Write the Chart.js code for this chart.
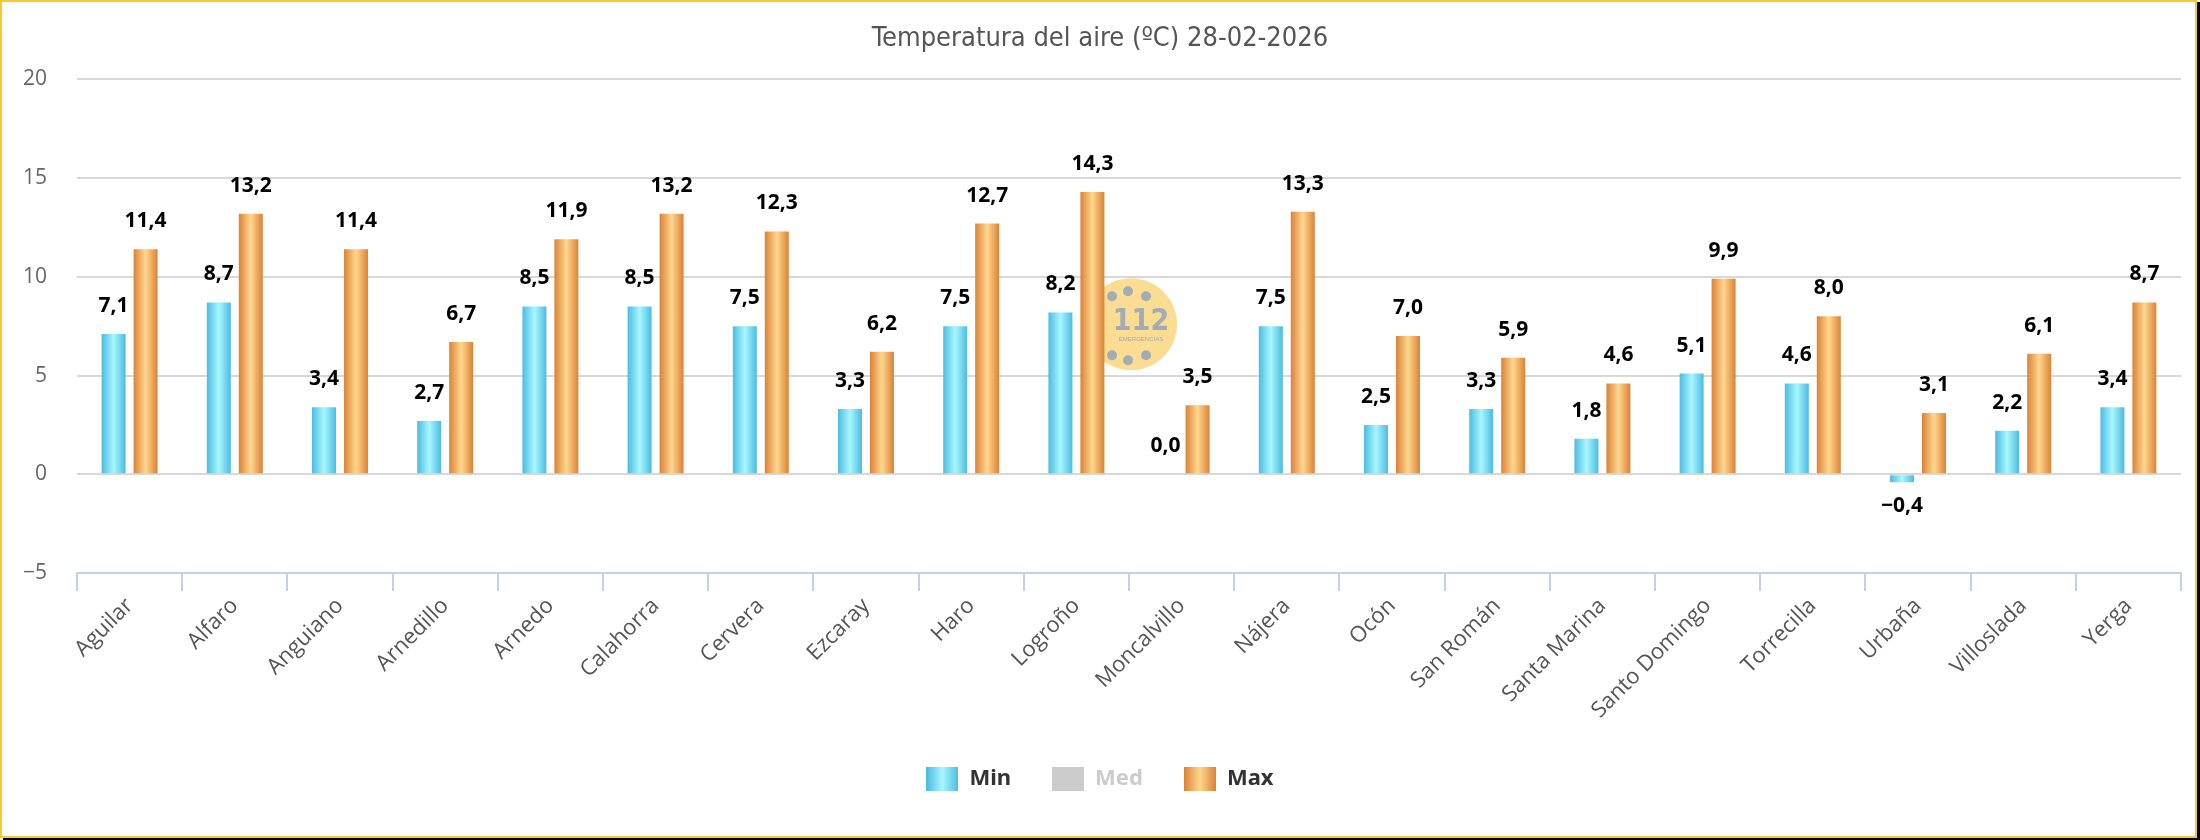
<!DOCTYPE html>
<html><head><meta charset="utf-8">
<script src="https://cdn.jsdelivr.net/npm/chart.js@4.4.1/dist/chart.umd.min.js"></script>
<style>
html,body{margin:0;padding:0;background:#fff;}
#wrap{position:relative;width:2200px;height:840px;}
#frame{position:absolute;left:0;top:0;width:2197px;height:838px;box-sizing:border-box;border:2px solid #FCC72E;box-shadow:3px 2px 0 0 #000;pointer-events:none;}
canvas{display:block;}
</style></head><body>
<div id="wrap"><canvas id="c" width="2200" height="840"></canvas><div id="frame"></div></div>
<script>
const chartTitle = 'Temperatura del aire (ºC) 28-02-2026';
const categories = ['Aguilar','Alfaro','Anguiano','Arnedillo','Arnedo','Calahorra','Cervera','Ezcaray','Haro','Logroño','Moncalvillo','Nájera','Ocón','San Román','Santa Marina','Santo Domingo','Torrecilla','Urbaña','Villoslada','Yerga'];
const minValues = [7.1, 8.7, 3.4, 2.7, 8.5, 8.5, 7.5, 3.3, 7.5, 8.2, 0.0, 7.5, 2.5, 3.3, 1.8, 5.1, 4.6, -0.4, 2.2, 3.4];
const medValues = [null,null,null,null,null,null,null,null,null,null,null,null,null,null,null,null,null,null,null,null];
const maxValues = [11.4, 13.2, 11.4, 6.7, 11.9, 13.2, 12.3, 6.2, 12.7, 14.3, 3.5, 13.3, 7.0, 5.9, 4.6, 9.9, 8.0, 3.1, 6.1, 8.7];
const seriesNames = ['Min', 'Med', 'Max'];
const yMin = -5, yMax = 20, yStep = 5;

const CAT_PCT = 0.608, BAR_PCT = 0.75;
const MIN_EDGE = '#4CBBE1', MIN_MID = '#A8F7FF';
const MAX_EDGE = '#DB8236', MAX_MID = '#FFD78F';
const MED_COLOR = '#CCCCCC';

function fmt(v) {
  const s = Math.abs(v).toFixed(1).replace('.', ',');
  return v < 0 ? '\u2212' + s : s;
}

function makeBarFill(edge, mid, side) {
  return (ctx) => {
    const chart = ctx.chart, xs = chart.scales && chart.scales.x;
    if (ctx.type !== 'data' || !xs || !xs.width) return edge;
    const center = xs.getPixelForValue(ctx.dataIndex);
    const cat = xs.width / categories.length;
    const slot = cat * CAT_PCT / 2;
    const w = slot * BAR_PCT;
    const bc = center + side * slot / 2;
    const g = chart.ctx.createLinearGradient(bc - w / 2, 0, bc + w / 2, 0);
    g.addColorStop(0, edge); g.addColorStop(0.5, mid); g.addColorStop(1, edge);
    return g;
  };
}

function legendIcon(edge, mid) {
  const c = document.createElement('canvas');
  c.width = 32; c.height = 24;
  const x = c.getContext('2d');
  if (mid) {
    const g = x.createLinearGradient(0, 0, 32, 0);
    g.addColorStop(0, edge); g.addColorStop(0.5, mid); g.addColorStop(1, edge);
    x.fillStyle = g;
  } else x.fillStyle = edge;
  x.fillRect(0, 0, 32, 24);
  return c;
}
const icons = [legendIcon(MIN_EDGE, MIN_MID), legendIcon(MED_COLOR), legendIcon(MAX_EDGE, MAX_MID)];

const logoPlugin = {
  id: 'logo',
  beforeDatasetsDraw(chart) {
    const ca = chart.chartArea, ctx = chart.ctx;
    const cx = (ca.left + ca.right) / 2 + 2, cy = (ca.top + ca.bottom) / 2 - 2;
    ctx.save();
    ctx.fillStyle = '#FADC92';
    ctx.beginPath(); ctx.arc(cx, cy, 46, 0, Math.PI * 2); ctx.fill();
    ctx.fillStyle = '#A2ACB4';
    [[-19,-28],[-3,-33],[15,-28],[-19,31],[-3,36],[15,31]].forEach(([dx, dy]) => {
      ctx.beginPath(); ctx.arc(cx + dx, cy + dy, 5, 0, Math.PI * 2); ctx.fill();
    });
    ctx.textAlign = 'center'; ctx.textBaseline = 'middle';
    ctx.font = 'bold 30px "Liberation Sans Narrow", "DejaVu Sans Condensed", sans-serif';
    ctx.fillText('112', cx + 10, cy - 2);
    ctx.font = '6px "Liberation Sans", sans-serif';
    ctx.fillText('EMERGENCIAS', cx + 10, cy + 15);
    ctx.restore();
  }
};

const labelPlugin = {
  id: 'valueLabels',
  afterDatasetsDraw(chart) {
    const ctx = chart.ctx;
    ctx.save();
    ctx.font = 'bold 21px "Noto Sans", sans-serif';
    ctx.fillStyle = '#000';
    ctx.textAlign = 'center';
    ctx.textBaseline = 'middle';
    chart.data.datasets.forEach((ds, di) => {
      if (!chart.isDatasetVisible(di)) return;
      const meta = chart.getDatasetMeta(di);
      meta.data.forEach((el, i) => {
        const v = ds.data[i];
        if (v === null || v === undefined) return;
        const y = v < 0 ? el.y + 24 : el.y - 28;
        ctx.fillText(fmt(v), el.x, y);
      });
    });
    ctx.restore();
  }
};

new Chart(document.getElementById('c'), {
  type: 'bar',
  data: {
    labels: categories,
    datasets: [
      { label: seriesNames[0], data: minValues, backgroundColor: makeBarFill(MIN_EDGE, MIN_MID, -1), categoryPercentage: CAT_PCT, barPercentage: BAR_PCT },
      { label: seriesNames[1], data: medValues, backgroundColor: MED_COLOR, hidden: true, categoryPercentage: CAT_PCT, barPercentage: BAR_PCT },
      { label: seriesNames[2], data: maxValues, backgroundColor: makeBarFill(MAX_EDGE, MAX_MID, 1), categoryPercentage: CAT_PCT, barPercentage: BAR_PCT }
    ]
  },
  options: {
    responsive: false,
    animation: false,
    events: [],
    layout: { padding: { left: 19, right: 19, top: 0, bottom: 40 } },
    plugins: {
      title: {
        display: true, text: chartTitle, color: '#555555',
        font: { family: '"Liberation Sans Narrow", "DejaVu Sans Condensed", sans-serif', size: 27, weight: 'normal', lineHeight: 1.2 },
        padding: { top: 23, bottom: 24 }
      },
      legend: {
        position: 'bottom',
        labels: {
          usePointStyle: true, pointStyleWidth: 32, boxHeight: 24, padding: 41,
          font: { family: '"Noto Sans", sans-serif', size: 22, weight: 'bold' },
          color: '#333333',
          generateLabels: (chart) => chart.data.datasets.map((ds, i) => ({
            text: ds.label, pointStyle: icons[i], fillStyle: MED_COLOR, strokeStyle: 'rgba(0,0,0,0)', lineWidth: 0,
            hidden: false, datasetIndex: i, fontColor: i === 1 ? '#CCCCCC' : '#333333'
          }))
        }
      },
      tooltip: { enabled: false }
    },
    scales: {
      x: {
        grid: { offset: true, drawOnChartArea: false, drawTicks: true, tickLength: 18, color: '#C3D1E0', lineWidth: 2 },
        border: { display: true, color: '#C3D1E0', width: 2 },
        ticks: { minRotation: 45, maxRotation: 45, autoSkip: false, color: '#555555', padding: 2,
          font: { family: '"Open Sans", sans-serif', size: 22 } },
        afterFit: (s) => { s.height = 154; }
      },
      y: {
        min: yMin, max: yMax,
        grid: { drawTicks: false, lineWidth: 2, color: (c) => (c.tick && c.tick.value === yMin) ? 'rgba(0,0,0,0)' : '#D8D8D8' },
        border: { display: false },
        ticks: { stepSize: yStep, padding: 30, color: '#666666',
          font: { family: '"Open Sans", sans-serif', size: 21 },
          callback: (v) => v < 0 ? '\u2212' + Math.abs(v) : String(v) },
        afterFit: (s) => { s.width = 58; }
      }
    }
  },
  plugins: [logoPlugin, labelPlugin]
});
</script>
</body></html>
